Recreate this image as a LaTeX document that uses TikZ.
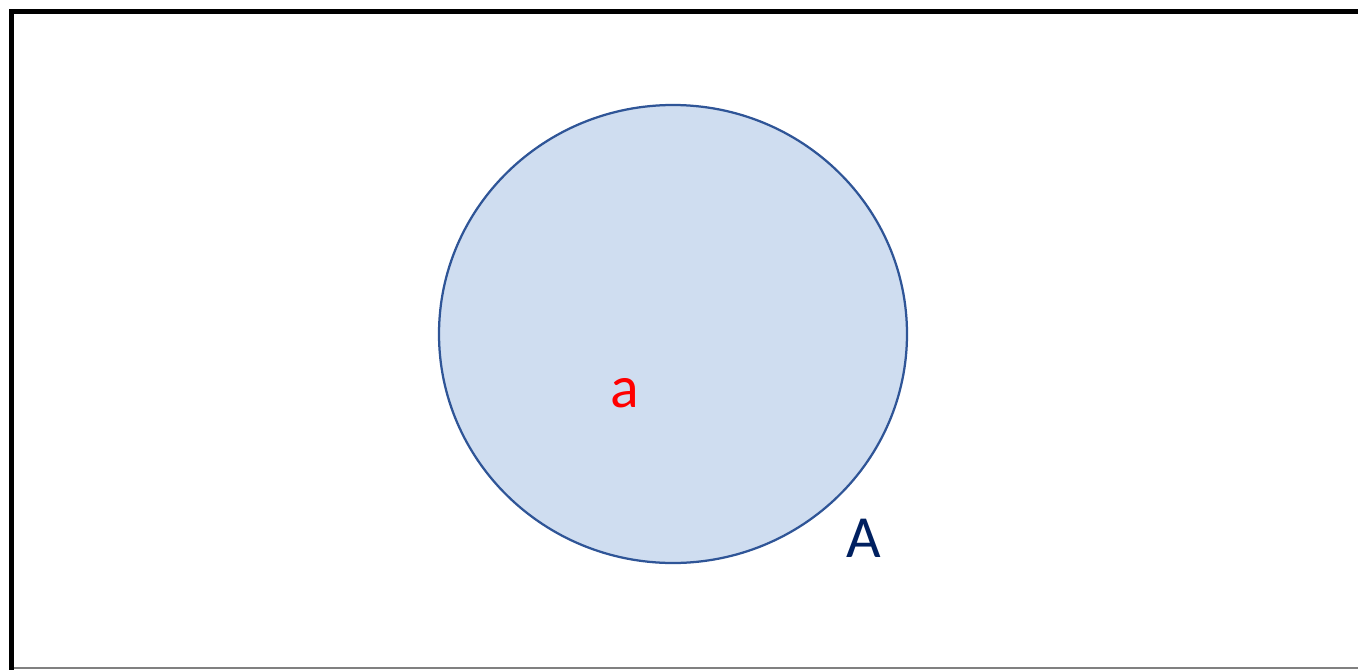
\documentclass[tikz,border=0pt]{standalone}
\usepackage{fontspec}
\setmainfont{Carlito}
\usepackage{tikz}
\usetikzlibrary{calc}
\definecolor{setfill}{RGB}{207,221,240}
\definecolor{setline}{RGB}{47,85,151}
\definecolor{setname}{RGB}{0,32,96}
\begin{document}
\begin{tikzpicture}[lbl/.style={inner sep=0pt,font=\fontsize{34}{40}\selectfont}]
\useasboundingbox (0,0) rectangle (27.16,13.38);

% frame of the universe
\coordinate (ul) at (0.23,13.15);
\coordinate (ll) at (0.23,-0.05);
\coordinate (ur) at (27.3,13.15);
\draw[line width=0.1cm,black] (ll)--(ul)--(ur);
\draw[line width=0.03cm,gray] (0.28,0.02)--(27.3,0.02);

% set A
\coordinate (c) at (13.46,6.70);
\draw[line width=0.045cm,setline,fill=setfill] (c) ellipse [x radius=4.68, y radius=4.58];

\node[lbl,text=red] (elem) at (12.5,5.52) {a};
\node[lbl,text=setname] (setA) at (17.28,2.62) {A};

\end{tikzpicture}
\end{document}
